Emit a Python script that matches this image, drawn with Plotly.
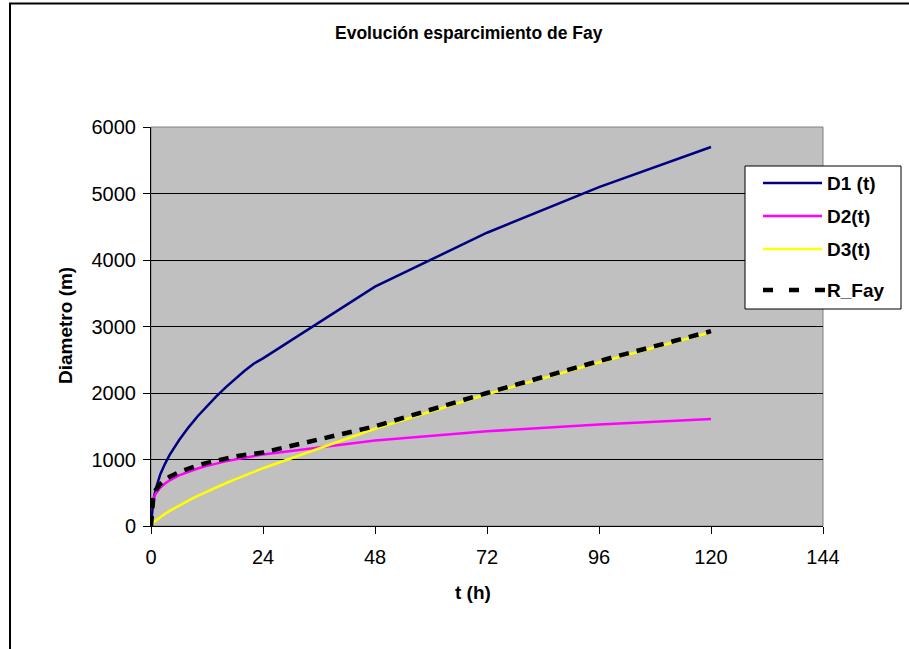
import plotly.graph_objects as go

# Time (hours) and spreading diameters (m)
t_h = [0, 0.25, 0.5, 1, 2, 3, 4, 6, 8, 10, 12, 14, 16, 18, 20, 22, 24, 48, 72, 96, 120]
d1 = [0, 270, 390, 550, 780, 935, 1070, 1290, 1480, 1650, 1805, 1950, 2085, 2210, 2330, 2440, 2520, 3600, 4410, 5095, 5700]
d2 = [None, 344, 409, 486, 578, 640, 687, 761, 817, 864, 904, 941, 972, 1001, 1028, 1053, 1076, 1285, 1425, 1525, 1610]
d3 = [0, 28, 48, 80, 135, 183, 227, 308, 382, 452, 518, 581, 643, 701, 759, 814, 869, 1462, 1982, 2459, 2914]
r_fay = [0, 370, 440, 540, 630, 690, 740, 810, 865, 910, 950, 985, 1015, 1045, 1068, 1088, 1105, 1500, 2000, 2480, 2930]

x_ticks = [0, 24, 48, 72, 96, 120, 144]
y_ticks = [0, 1000, 2000, 3000, 4000, 5000, 6000]

series_names = ["D1 (t)", "D2(t)", "D3(t)", "R_Fay"]
series_colors = ["#000080", "#FF00FF", "#FFFF00", "#000000"]

FONT = "Liberation Sans, Arial, sans-serif"

fig = go.Figure()
for name, vals, color in zip(series_names[:3], [d1, d2, d3], series_colors[:3]):
    fig.add_trace(go.Scatter(x=t_h, y=vals, mode="lines", name=name,
                             line=dict(color=color, width=2.5), showlegend=False))
fig.add_trace(go.Scatter(x=t_h, y=r_fay, mode="lines", name=series_names[3],
                         line=dict(color="#000000", width=4.5, dash="10px,8px"),
                         showlegend=False))

# plot-area geometry in pixels (used to place decorations in paper coordinates)
L, R, T, B = 151, 823, 127, 526
W, H = R - L, B - T


def px(xp):
    return (xp - L) / W


def py(yp):
    return (B - yp) / H


shapes = [
    # outer chart frame
    dict(type="rect", xref="paper", yref="paper", x0=px(10), y0=py(3.5), x1=px(1200), y1=py(900),
         line=dict(color="#000000", width=2), fillcolor="rgba(0,0,0,0)", layer="below"),
    # plot-area frame (top/right gray)
    dict(type="rect", xref="paper", yref="paper", x0=0, y0=0, x1=1, y1=1,
         line=dict(color="#808080", width=1), fillcolor="rgba(0,0,0,0)", layer="below"),
]

# legend box
lx0, ly0, lx1, ly1 = 745, 166, 901, 309
shapes.append(dict(type="rect", xref="paper", yref="paper", x0=px(lx0), y0=py(ly0), x1=px(lx1), y1=py(ly1),
                   line=dict(color="#000000", width=1), fillcolor="#FFFFFF"))
row_y = [183, 216, 249, 290]
annotations = []
for i, (name, color) in enumerate(zip(series_names, series_colors)):
    yy = row_y[i]
    if name == "R_Fay":
        shapes.append(dict(type="line", xref="paper", yref="paper", x0=px(763), x1=px(826),
                           y0=py(yy), y1=py(yy),
                           line=dict(color=color, width=4.5, dash="10px,16px")))
    else:
        shapes.append(dict(type="line", xref="paper", yref="paper", x0=px(763), x1=px(822),
                           y0=py(yy), y1=py(yy), line=dict(color=color, width=2.5)))
    annotations.append(dict(xref="paper", yref="paper", x=px(825), y=py(yy), text=f"<b>{name}</b>",
                            showarrow=False, xanchor="left", yanchor="middle",
                            font=dict(family=FONT, size=19, color="#000000")))

annotations += [
    dict(xref="paper", yref="paper", x=px(469), y=py(33), text="<b>Evolución esparcimiento de Fay</b>",
         showarrow=False, xanchor="center", yanchor="middle",
         font=dict(family=FONT, size=17.5, color="#000000")),
    dict(xref="paper", yref="paper", x=px(473), y=py(592), text="<b>t (h)</b>",
         showarrow=False, xanchor="center", yanchor="middle",
         font=dict(family=FONT, size=19, color="#000000")),
    dict(xref="paper", yref="paper", x=px(65), y=py(326), text="<b>Diametro (m)</b>", textangle=-90,
         showarrow=False, xanchor="center", yanchor="middle",
         font=dict(family=FONT, size=19, color="#000000")),
]

fig.update_layout(
    width=909, height=649,
    margin=dict(l=L, r=909 - R, t=T, b=649 - B, pad=0),
    paper_bgcolor="#FFFFFF", plot_bgcolor="#C0C0C0",
    font=dict(family=FONT, size=20, color="#000000"),
    shapes=shapes, annotations=annotations,
    showlegend=False,
)
fig.update_xaxes(range=[0, 144], tickvals=x_ticks, ticktext=[str(v) for v in x_ticks],
                 showgrid=False, zeroline=False, showline=True, linecolor="#000000", linewidth=1,
                 ticks="outside", ticklen=7, tickcolor="#000000", tickfont=dict(size=20),
                 ticklabelstandoff=6)
fig.update_yaxes(range=[0, 6000], tickvals=y_ticks, ticktext=[str(v) for v in y_ticks],
                 showgrid=True, gridcolor="#000000", gridwidth=1, zeroline=False,
                 showline=True, linecolor="#000000", linewidth=1,
                 ticks="outside", ticklen=7, tickcolor="#000000", tickfont=dict(size=20),
                 ticklabelstandoff=3)

fig.write_html("out.html")
